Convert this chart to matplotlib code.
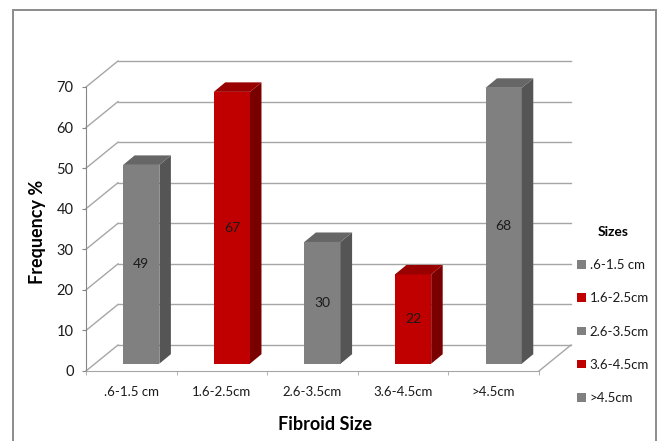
import numpy as np
import matplotlib.pyplot as plt
from matplotlib.patches import Polygon, Rectangle

# data
categories = ['.6-1.5 cm', '1.6-2.5cm', '2.6-3.5cm', '3.6-4.5cm', '>4.5cm']
frequency = [49, 67, 30, 22, 68]
bar_colors = ['#808080', '#c00000', '#808080', '#c00000', '#808080']
side_colors = ['#555555', '#7a0000', '#555555', '#7a0000', '#555555']
top_colors = ['#666666', '#990000', '#666666', '#990000', '#666666']
yticks = [0, 10, 20, 30, 40, 50, 60, 70]

plt.rcParams['font.family'] = ['Lato', 'DejaVu Sans']

W, H = 661, 441
fig = plt.figure(figsize=(W / 100, H / 100), dpi=100)

# plot area (front plane) in pixel terms
left_px, right_px, zero_px, top_px = 86, 539, 371, 87
ax = fig.add_axes([left_px / W, (H - zero_px) / H,
                   (right_px - left_px) / W, (zero_px - top_px) / H])
ax.set_xlim(-0.5, 4.5)
ax.set_ylim(0, 70)

px_x = (right_px - left_px) / 5.0       # pixels per category
px_y = (zero_px - top_px) / 70.0        # pixels per unit

# wall depth and bar depth (in data units)
DX, DY = 32 / px_x, 26 / px_y
bdx, bdy = 11.5 / px_x, 9.5 / px_y
shift_x, shift_y = 0.11, 1.8
bw = 0.40

grid_c = '#a6a6a6'
for v in yticks:
    ax.plot([-0.5 + DX, 4.5 + DX], [v + DY, v + DY], color=grid_c, lw=1,
            clip_on=False, zorder=1)
    ax.plot([-0.5, -0.5 + DX], [v, v + DY], color=grid_c, lw=1,
            clip_on=False, zorder=1)
# floor right edge
ax.plot([4.5, 4.5 + DX], [0, DY], color=grid_c, lw=1, clip_on=False, zorder=1)

x = np.arange(len(categories))
bars = ax.bar(x + shift_x, frequency, width=bw, bottom=shift_y,
              color=bar_colors, zorder=3, clip_on=False)

for i, v in enumerate(frequency):
    x0 = x[i] + shift_x - bw / 2
    x1 = x0 + bw
    y0, y1 = shift_y, shift_y + v
    side = Polygon([(x1, y0), (x1 + bdx, y0 + bdy), (x1 + bdx, y1 + bdy), (x1, y1)],
                   closed=True, facecolor=side_colors[i], edgecolor='none',
                   zorder=3, clip_on=False)
    top = Polygon([(x0, y1), (x0 + bdx, y1 + bdy), (x1 + bdx, y1 + bdy), (x1, y1)],
                  closed=True, facecolor=top_colors[i], edgecolor='none',
                  zorder=3, clip_on=False)
    ax.add_patch(side)
    ax.add_patch(top)
    ax.text(x[i] + shift_x, shift_y + v / 2, str(v), ha='center', va='center',
            fontsize=10, color='#1a1a1a', zorder=4)

# axes styling
for s in ['top', 'right']:
    ax.spines[s].set_visible(False)
ax.spines['left'].set_color('#868686')
ax.spines['bottom'].set_color('#a6a6a6')
ax.set_yticks(yticks)
ax.tick_params(axis='y', length=3, color='#868686', pad=6, labelsize=10.5,
               labelcolor='#1a1a1a')
ax.set_xticks(x)
ax.set_xticklabels(categories)
ax.set_xticks(np.arange(-0.5, 5.0, 1.0), minor=True)
ax.tick_params(axis='x', which='major', length=0, pad=11, labelsize=9.5,
               labelcolor='#1a1a1a')
ax.tick_params(axis='x', which='minor', length=3, color='#a6a6a6')
ax.patch.set_alpha(0)

fig.text(38 / W, 1 - 232 / H, 'Frequency %', rotation=90, ha='center',
         va='center', fontsize=13, fontweight='bold', color='#000000')
fig.text(325 / W, 1 - 425 / H, 'Fibroid Size', ha='center', va='center',
         fontsize=13, fontweight='bold', color='#000000')

leg = ax.legend(bars.patches, categories, title='Sizes', frameon=False,
                loc='upper left', bbox_to_anchor=(572 / W, 1 - 221 / H),
                bbox_transform=fig.transFigure, fontsize=9.5,
                handlelength=0.65, handleheight=0.65, handletextpad=0.3,
                labelspacing=1.6, borderaxespad=0)
leg.get_title().set_fontweight('bold')
leg.get_title().set_fontsize(10)
for t in leg.get_texts():
    t.set_color('#1a1a1a')

# chart border
fig.patches.append(Rectangle((13 / W, -0.05), (656 - 13) / W, 1.05 - 10 / H,
                             transform=fig.transFigure, fill=False,
                             edgecolor='#8c8c8c', lw=1.4))

plt.savefig('out.png', dpi=100)
